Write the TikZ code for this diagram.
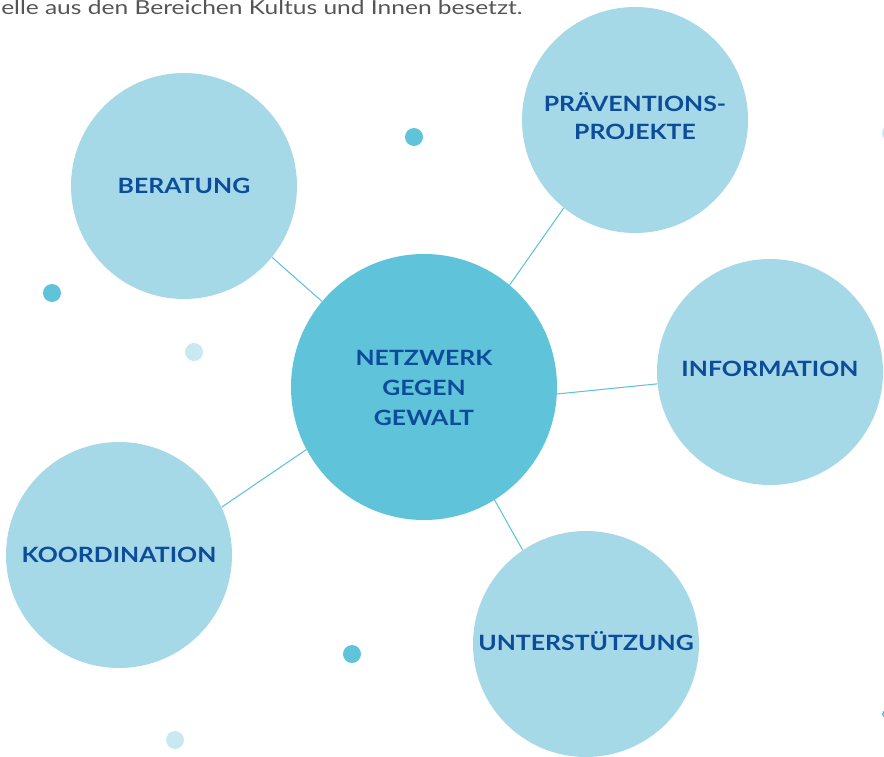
\documentclass[tikz,border=0pt]{standalone}
\usepackage{fontspec}
\setmainfont{Lato}
\newfontfamily\labelfont[FakeStretch=1.18]{Lato}
\newfontfamily\introfont[FakeStretch=1.27]{Lato}
\usetikzlibrary{backgrounds}
\definecolor{hub}{HTML}{5FC3D9}
\definecolor{leaf}{HTML}{A6D9E7}
\definecolor{dotlight}{HTML}{C8E9F2}
\definecolor{labelblue}{HTML}{0C4C9A}
\definecolor{bodygray}{HTML}{555555}
\tikzset{
  hubnode/.style={circle, fill=hub, minimum size=199.5pt, inner sep=0pt},
  leafnode/.style={circle, fill=leaf, minimum size=169.5pt, inner sep=0pt},
  hubtext/.style={align=center, inner sep=0pt, text=labelblue,
    font=\labelfont\bfseries\fontsize{15.8}{22.5}\selectfont},
  leaftext/.style={align=center, inner sep=0pt, text=labelblue,
    font=\labelfont\bfseries\fontsize{15.8}{21}\selectfont},
  link/.style={draw=hub, line width=0.8pt},
  dotdark/.style={fill=hub},
  dotpale/.style={fill=dotlight}
}
\begin{document}
\begin{tikzpicture}[x=0.75pt, y=-0.75pt]
\useasboundingbox (0,0) rectangle (884,756);
\clip (0,0) rectangle (884,756);
\node[anchor=base west, text=bodygray, font=\introfont\fontsize{14.5}{16}\selectfont, inner sep=0pt] (intro) at (1,15) {elle aus den Bereichen Kultus und Innen besetzt.};
\node[hubnode] (hub) at (424,387) {};
\node[leafnode] (ber) at (184,186) {};
\node[leafnode] (prae) at (635,120) {};
\node[leafnode] (info) at (770,372) {};
\node[leafnode] (koord) at (119,555) {};
\node[leafnode] (unt) at (586,644) {};
\node[hubtext] (hubt) at (424,388) {NETZWERK\\GEGEN\\GEWALT};
\node[leaftext] (bert) at (184,186) {BERATUNG};
\node[leaftext] (praet) at (635,116) {PRÄVENTIONS-\\PROJEKTE};
\node[leaftext] (infot) at (770,369) {INFORMATION};
\node[leaftext] (koordt) at (119,555) {KOORDINATION};
\node[leaftext] (untt) at (586,641) {UNTERSTÜTZUNG};
\draw[link] (hub.140) -- (ber.-39);
\draw[link] (hub.50.6) -- (prae.231);
\draw[link] (hub.-3.9) -- (info.186.3);
\draw[link] (hub.208.6) -- (koord.25.2);
\draw[link] (hub.-58.7) -- (unt.124.4);
\fill[dotdark] (414,137) circle[radius=9];
\fill[dotdark] (52,293) circle[radius=9];
\fill[dotpale] (194,352) circle[radius=9];
\fill[dotdark] (352,654) circle[radius=9];
\fill[dotpale] (175,740) circle[radius=9];
\fill[dotpale] (891,133) circle[radius=9];
\fill[dotdark] (886,714) circle[radius=4];
\end{tikzpicture}
\end{document}
